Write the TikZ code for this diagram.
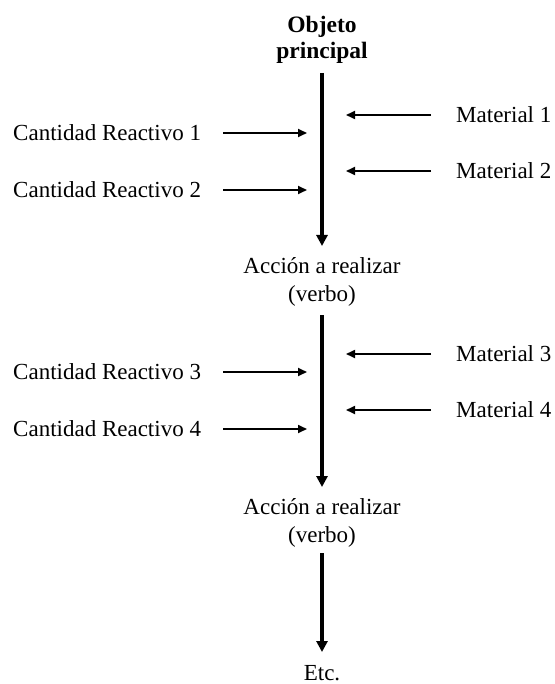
\documentclass[tikz,border=0pt]{standalone}
\usepackage{fontspec}
\setmainfont{Liberation Serif}
\usetikzlibrary{arrows.meta}
\tikzset{
  lbl/.style={inner sep=0pt, font=\fontsize{23}{28}\selectfont},
  ctr/.style={lbl, align=center},
  mainarrow/.style={line width=3.2pt, -{Triangle[length=11pt,width=11pt]}},
  sidearrow/.style={line width=1.7pt, -{Triangle[length=9pt,width=8pt]}}
}
\begin{document}
\begin{tikzpicture}[x=1pt,y=-1pt]
\useasboundingbox (0,0) rectangle (554,684);
% text nodes
\node[ctr, font=\fontsize{23.5}{26}\selectfont\bfseries] (obj) at (322,40) {Objeto\\principal};
\node[ctr] (acc1) at (322,282) {Acción a realizar\\(verbo)};
\node[ctr] (acc2) at (322,523) {Acción a realizar\\(verbo)};
\node[lbl] (etc) at (322,673) {Etc.};
\node[lbl, anchor=west] (c1) at (13,133) {Cantidad Reactivo 1};
\node[lbl, anchor=west] (c2) at (13,190) {Cantidad Reactivo 2};
\node[lbl, anchor=west] (c3) at (13,372) {Cantidad Reactivo 3};
\node[lbl, anchor=west] (c4) at (13,429) {Cantidad Reactivo 4};
\node[lbl, anchor=west] (m1) at (456,115) {Material 1};
\node[lbl, anchor=west] (m2) at (456,171) {Material 2};
\node[lbl, anchor=west] (m3) at (456,354) {Material 3};
\node[lbl, anchor=west] (m4) at (456,410) {Material 4};
% connector end points
\coordinate (v1s) at (322,73);
\coordinate (v1e) at (322,246);
\coordinate (v2s) at (322,315);
\coordinate (v2e) at (322,487);
\coordinate (v3s) at (322,553);
\coordinate (v3e) at (322,652);
\coordinate (ls) at (223,0);
\coordinate (lt) at (307,0);
\coordinate (rs) at (431,0);
\coordinate (rt) at (346,0);
% main flow
\draw[mainarrow] (obj.south |- v1s) -- (acc1.north |- v1e);
\draw[mainarrow] (acc1.south |- v2s) -- (acc2.north |- v2e);
\draw[mainarrow] (acc2.south |- v3s) -- (etc.north |- v3e);
% side arrows
\foreach \n in {c1,c2,c3,c4}{
  \draw[sidearrow] (\n.west -| ls) -- (\n.west -| lt);
}
\foreach \n in {m1,m2,m3,m4}{
  \draw[sidearrow] (\n.west -| rs) -- (\n.west -| rt);
}
\end{tikzpicture}
\end{document}
